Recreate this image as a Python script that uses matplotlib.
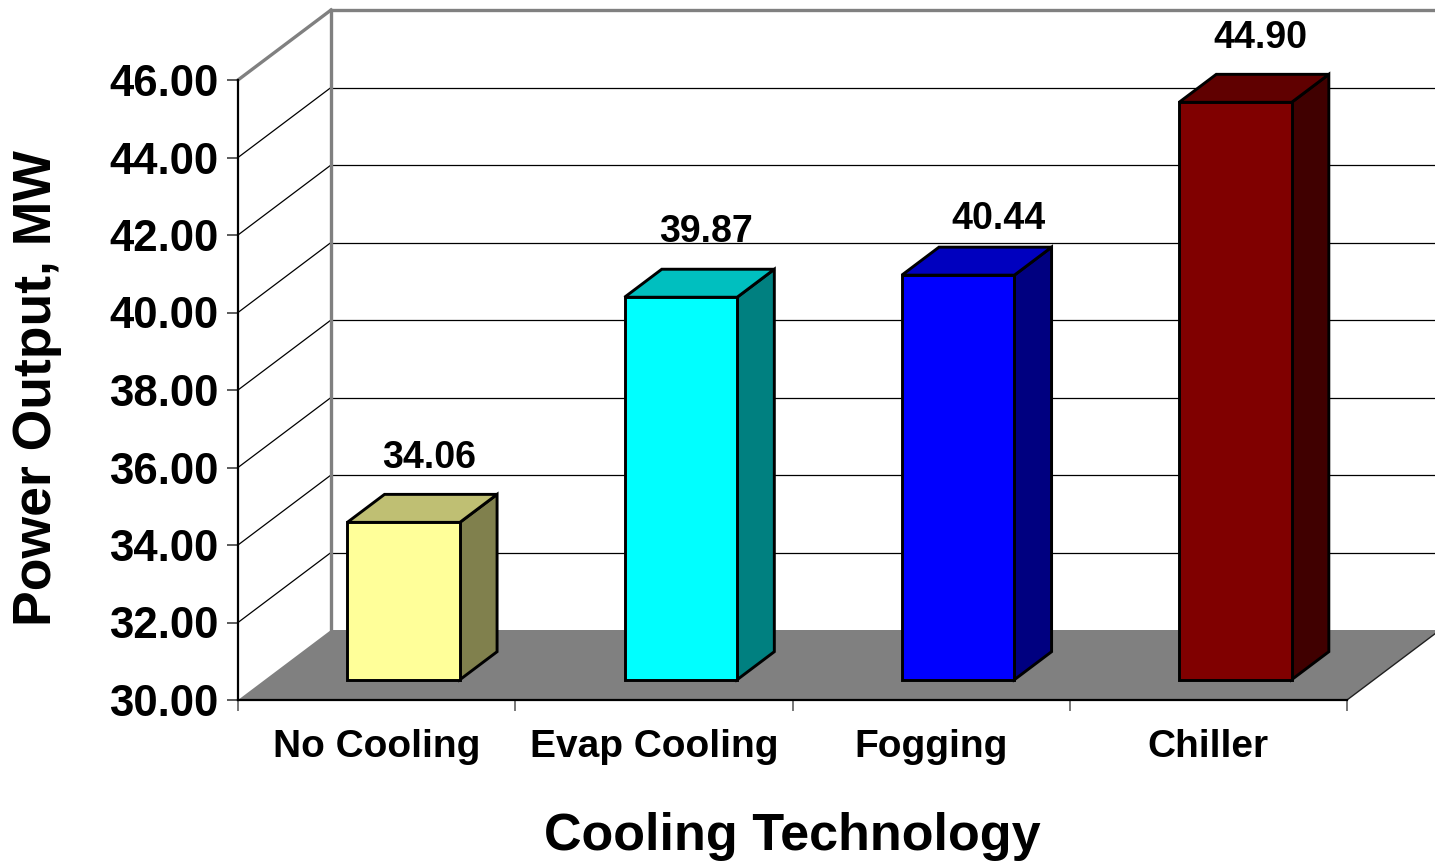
import matplotlib
matplotlib.use("Agg")
import matplotlib.pyplot as plt
from matplotlib.patches import Polygon

# Chart data
categories = ["No Cooling", "Evap Cooling", "Fogging", "Chiller"]
power_mw = [34.06, 39.87, 40.44, 44.90]
y_ticks = [30, 32, 34, 36, 38, 40, 42, 44, 46]

# Face colours of each box: front, top (lighter shade), side (darker shade)
front_colors = ["#FFFF99", "#00FFFF", "#0000FF", "#800000"]
top_colors = ["#BFBF73", "#00BFBF", "#0000BF", "#600000"]
side_colors = ["#80804D", "#008080", "#000080", "#400000"]

plt.rcParams["font.family"] = ["Liberation Sans", "DejaVu Sans"]
plt.rcParams["font.weight"] = "bold"

W, H = 1435, 861
fig = plt.figure(figsize=(W / 100, H / 100), dpi=100)
ax = fig.add_axes([238 / W, 161 / H, 1109 / W, 620 / H])
n = len(categories)
ax.set_xlim(0, n)
ax.set_ylim(y_ticks[0], y_ticks[-1])
ax.set_facecolor("none")

# oblique depth vector of the 3-D box (in data units)
DX = 93 / 277.25
DY = 70 / 38.75
ymin, ymax = y_ticks[0], y_ticks[-1]
grey = "#808080"

# floor
floor = Polygon([(0, ymin), (n, ymin), (n + DX, ymin + DY), (DX, ymin + DY)],
                closed=True, facecolor=grey, edgecolor="none", zorder=1, clip_on=False)
ax.add_patch(floor)
ax.plot([n, n + DX], [ymin, ymin + DY], color="#202020", lw=1.0, zorder=1.5, clip_on=False)

# gridlines on the side wall and back wall
for v in y_ticks[1:-1]:
    ax.plot([0, DX], [v, v + DY], color="black", lw=0.9, zorder=1.2, clip_on=False)
    ax.plot([DX, n + DX], [v + DY, v + DY], color="black", lw=0.9, zorder=1.2, clip_on=False)

# wall outlines
ax.plot([0, DX], [ymax, ymax + DY], color=grey, lw=2.4, zorder=1.3, clip_on=False,
        solid_capstyle="projecting")
ax.plot([DX, DX], [ymin + DY, ymax + DY], color=grey, lw=2.4, zorder=1.3, clip_on=False)
ax.plot([DX, n + DX], [ymax + DY, ymax + DY], color=grey, lw=2.4, zorder=1.3, clip_on=False)

# small nudges (points) applied to the value labels
label_nudge = [(0, 0), (0, 0), (11, -6), (0, 0)]

# 3-D boxes
half_w = 0.203
d0, d1 = 0.29, 0.69
for i, (v, fc, tc, sc) in enumerate(zip(power_mw, front_colors, top_colors, side_colors)):
    cx = i + 0.5
    x0 = cx - half_w + d0 * DX
    x1 = cx + half_w + d0 * DX
    y0 = ymin + d0 * DY
    yt = v + d0 * DY
    ddx = (d1 - d0) * DX
    ddy = (d1 - d0) * DY
    kw = dict(closed=True, edgecolor="black", lw=2.1, joinstyle="miter", zorder=3, clip_on=False)
    ax.add_patch(Polygon([(x1, y0), (x1 + ddx, y0 + ddy), (x1 + ddx, yt + ddy), (x1, yt)],
                         facecolor=sc, **kw))
    ax.add_patch(Polygon([(x0, yt), (x1, yt), (x1 + ddx, yt + ddy), (x0 + ddx, yt + ddy)],
                         facecolor=tc, **kw))
    ax.add_patch(Polygon([(x0, y0), (x1, y0), (x1, yt), (x0, yt)],
                         facecolor=fc, **kw))
    ax.annotate(f"{v:.2f}", (cx + 0.56 * DX, v + d1 * DY + 0.95),
                xytext=label_nudge[i], textcoords="offset points",
                ha="center", va="center", fontsize=27, fontweight="bold",
                zorder=4, annotation_clip=False)

# axes: front vertical axis and floor front edge
for s in ("top", "right"):
    ax.spines[s].set_visible(False)
ax.spines["left"].set_linewidth(1.6)
ax.spines["bottom"].set_linewidth(1.6)
ax.spines["left"].set_zorder(2)
ax.spines["bottom"].set_zorder(2)

ax.set_yticks(y_ticks)
ax.set_yticklabels([f"{t:.2f}" for t in y_ticks])
ax.tick_params(axis="y", direction="out", length=8, width=1.2, color="#404040",
               pad=6, labelsize=31.5)
ax.set_xticks(range(n + 1))
ax.set_xticklabels([])
ax.tick_params(axis="x", which="major", direction="out", length=8, width=1.2, color="#606060")
ax.set_xticks([i + 0.5 for i in range(n)], minor=True)
ax.set_xticklabels(categories, minor=True)
ax.tick_params(axis="x", which="minor", length=0, pad=21, labelsize=28)
for lab in ax.get_xticklabels(minor=True) + ax.get_yticklabels():
    lab.set_fontweight("bold")

fig.text(792 / W, 1 - 850 / H, "Cooling Technology", ha="center", va="baseline",
         fontsize=37.5, fontweight="bold")
fig.text(37 / W, 1 - 388 / H, "Power Output, MW", ha="center", va="center",
         rotation=90, fontsize=38.5, fontweight="bold")

fig.savefig("out.png", dpi=100, facecolor="white")
